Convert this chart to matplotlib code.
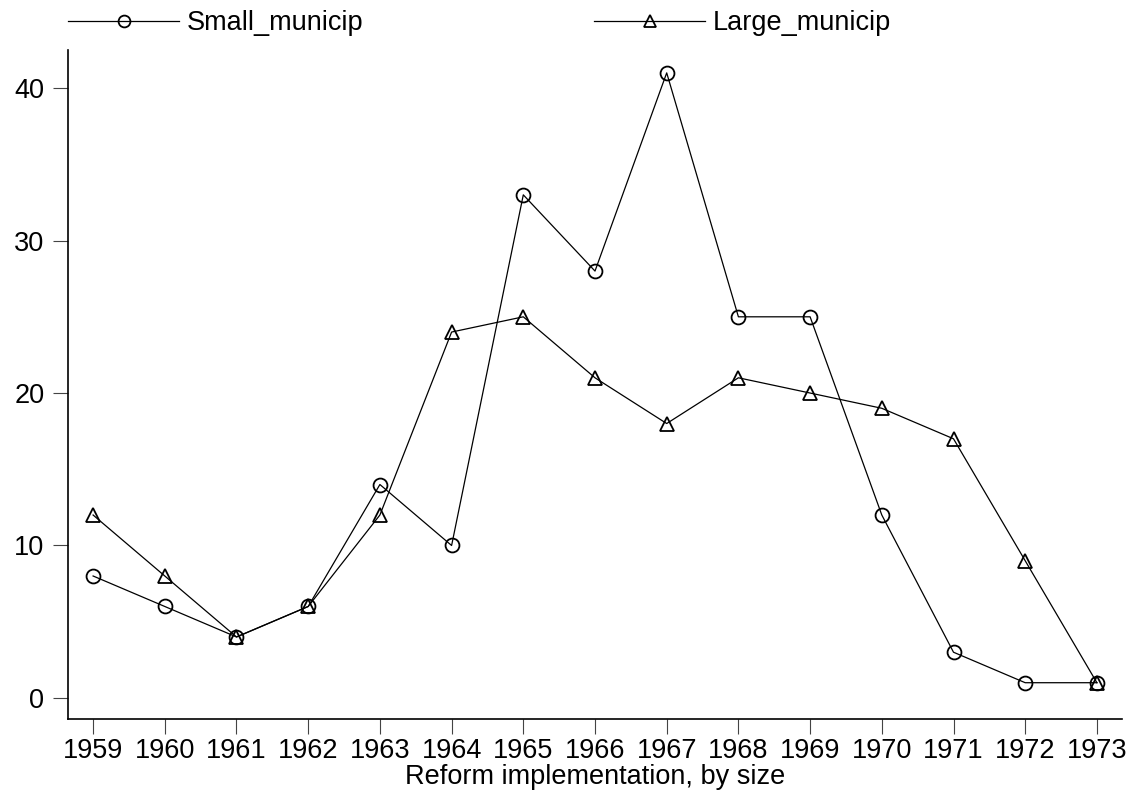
import matplotlib
matplotlib.use("Agg")
import matplotlib.pyplot as plt

plt.rcParams['font.family'] = ['Liberation Sans', 'DejaVu Sans']

# Data
years = [1959, 1960, 1961, 1962, 1963, 1964, 1965, 1966, 1967, 1968, 1969, 1970, 1971, 1972, 1973]
small_municip = [8, 6, 4, 6, 14, 10, 33, 28, 41, 25, 25, 12, 3, 1, 1]
large_municip = [12, 8, 4, 6, 12, 24, 25, 21, 18, 21, 20, 19, 17, 9, 1]
y_ticks = [0, 10, 20, 30, 40]

fig = plt.figure(figsize=(11.35, 7.93), dpi=100)
ax = fig.add_axes([68 / 1135, 1 - 719 / 793, (1122 - 68) / 1135, (719 - 50) / 793])

ax.plot(years, small_municip, color='black', lw=0.9, marker='o', ms=10,
        mfc='none', mec='black', mew=1.3, label='Small_municip')
ax.plot(years, large_municip, color='black', lw=0.9, marker='^', ms=10,
        mfc='none', mec='black', mew=1.3, label='Large_municip')

ax.set_xlim(1958.65, 1973.35)
ax.set_ylim(-1.38, 42.5)
ax.set_xticks(years)
ax.set_yticks(y_ticks)
ax.tick_params(axis='both', labelsize=19.5, length=11, width=0.8, color='#444444')
ax.tick_params(axis='x', pad=3)
ax.tick_params(axis='y', pad=6)
for s in ['top', 'right']:
    ax.spines[s].set_visible(False)
for s in ['left', 'bottom']:
    ax.spines[s].set_linewidth(1.2)

ax.set_xlabel('Reform implementation, by size', fontsize=19.5, labelpad=0)

fig.legend(loc='upper left', bbox_to_anchor=(68 / 1135, 1 - 10 / 793), ncol=2,
           frameon=False, fontsize=19.5, handlelength=4.1, handletextpad=0.3,
           columnspacing=8.5, borderpad=0, borderaxespad=0, markerscale=0.85)

fig.savefig('out.png', dpi=100)
